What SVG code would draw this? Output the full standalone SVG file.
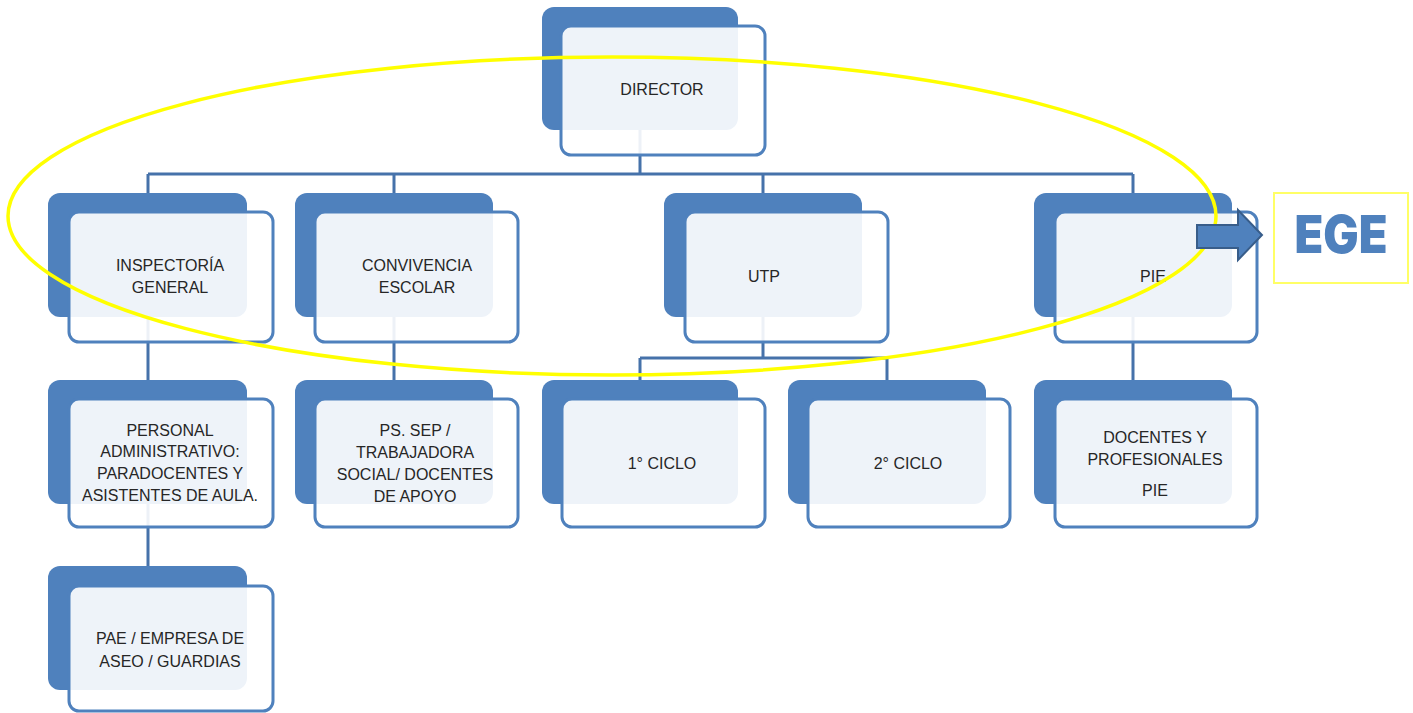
<svg xmlns="http://www.w3.org/2000/svg" width="1413" height="713" viewBox="0 0 1413 713">
<style>
.back{fill:#4F81BD;}
.front{fill:#FFFFFF;fill-opacity:0.9;stroke:#4F81BD;stroke-width:3;}
.lbl{font-family:"Liberation Sans",Arial,sans-serif;font-size:16px;fill:#262626;text-anchor:middle;}
.con{fill:none;stroke:#4672AA;stroke-width:3;}
</style>
<rect width="1413" height="713" fill="#FFFFFF"/>
<g id="connectors">
<path class="con" d="M640,130 V174 M148,174 H1133 M148,174 V193 M394,174 V193 M763,174 V193 M1133,174 V193"/>
<path class="con" d="M148,317 V380 M148,504 V566 M394,317 V380 M1133,317 V380"/>
<path class="con" d="M763,317 V358 M640,358 H887 M640,358 V380 M887,358 V380"/>
</g>
<g id="director">
<rect class="back" x="542" y="7" width="196" height="123" rx="12"/>
<rect class="front" x="561" y="26" width="204" height="129" rx="10"/>
<text class="lbl" x="662" y="95">DIRECTOR</text>
</g>
<g id="inspectoria">
<rect class="back" x="48" y="193" width="199" height="124" rx="12"/>
<rect class="front" x="69" y="212" width="204" height="130" rx="10"/>
<text class="lbl" x="170" y="271">INSPECTORÍA</text>
<text class="lbl" x="170" y="293">GENERAL</text>
</g>
<g id="convivencia">
<rect class="back" x="295" y="193" width="198" height="124" rx="12"/>
<rect class="front" x="315" y="212" width="203" height="130" rx="10"/>
<text class="lbl" x="417" y="271">CONVIVENCIA</text>
<text class="lbl" x="417" y="293">ESCOLAR</text>
</g>
<g id="utp">
<rect class="back" x="664" y="193" width="198" height="124" rx="12"/>
<rect class="front" x="685" y="212" width="203" height="130" rx="10"/>
<text class="lbl" x="764" y="282">UTP</text>
</g>
<g id="pie">
<rect class="back" x="1034" y="193" width="198" height="124" rx="12"/>
<rect class="front" x="1055" y="212" width="202" height="130" rx="10"/>
<text class="lbl" x="1153" y="282">PIE</text>
</g>
<g id="personal">
<rect class="back" x="48" y="380" width="199" height="124" rx="12"/>
<rect class="front" x="69" y="399" width="204" height="128" rx="10"/>
<text class="lbl" x="170" y="436">PERSONAL</text>
<text class="lbl" x="170" y="457">ADMINISTRATIVO:</text>
<text class="lbl" x="170" y="479">PARADOCENTES Y</text>
<text class="lbl" x="170" y="501">ASISTENTES DE AULA.</text>
</g>
<g id="pssep">
<rect class="back" x="295" y="380" width="198" height="124" rx="12"/>
<rect class="front" x="315" y="399" width="203" height="128" rx="10"/>
<text class="lbl" x="415" y="436">PS. SEP /</text>
<text class="lbl" x="415" y="458">TRABAJADORA</text>
<text class="lbl" x="415" y="480">SOCIAL/ DOCENTES</text>
<text class="lbl" x="415" y="502">DE APOYO</text>
</g>
<g id="ciclo1">
<rect class="back" x="542" y="380" width="196" height="124" rx="12"/>
<rect class="front" x="562" y="399" width="203" height="128" rx="10"/>
<text class="lbl" x="662" y="469">1° CICLO</text>
</g>
<g id="ciclo2">
<rect class="back" x="788" y="380" width="198" height="124" rx="12"/>
<rect class="front" x="808" y="399" width="202" height="128" rx="10"/>
<text class="lbl" x="908" y="469">2° CICLO</text>
</g>
<g id="docentes">
<rect class="back" x="1034" y="380" width="198" height="124" rx="12"/>
<rect class="front" x="1055" y="399" width="202" height="128" rx="10"/>
<text class="lbl" x="1155" y="443">DOCENTES Y</text>
<text class="lbl" x="1155" y="465">PROFESIONALES</text>
<text class="lbl" x="1155" y="496">PIE</text>
</g>
<g id="pae">
<rect class="back" x="48" y="566" width="199" height="124" rx="12"/>
<rect class="front" x="69" y="586" width="204" height="125" rx="10"/>
<text class="lbl" x="170" y="644">PAE / EMPRESA DE</text>
<text class="lbl" x="170" y="667">ASEO / GUARDIAS</text>
</g>
<g id="highlight">
<ellipse cx="612" cy="216" rx="604" ry="159" fill="none" stroke="#FFFF00" stroke-width="3.5"/>
</g>
<g id="arrow">
<path d="M1197,225 H1238 V210 L1262,235 L1238,260 V248 H1197 Z" fill="#4F81BD" stroke="#385D8A" stroke-width="2"/>
</g>
<g id="ege">
<rect x="1274" y="193" width="134" height="90" fill="#FFFFFF" stroke="#FFFF66" stroke-width="2"/>
<text x="1341" y="253" font-family="Inter,'Liberation Sans',Arial,sans-serif" font-weight="900" font-size="52" fill="#4F81BD" text-anchor="middle" textLength="93" lengthAdjust="spacingAndGlyphs">EGE</text>
</g>
</svg>
